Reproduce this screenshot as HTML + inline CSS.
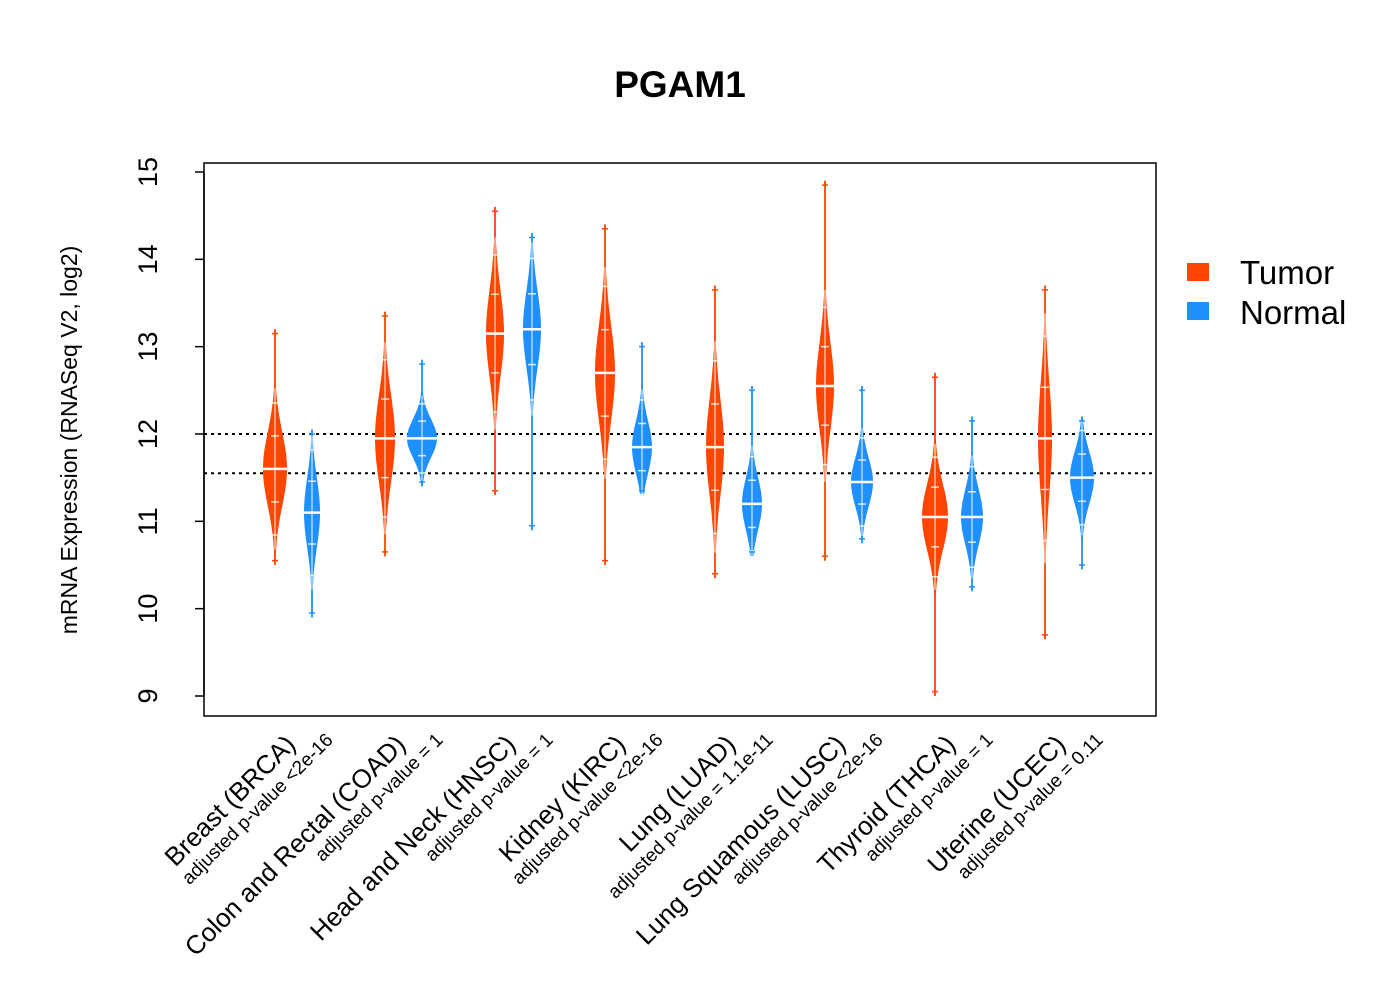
<!DOCTYPE html>
<html><head><meta charset="utf-8"><style>
body{margin:0;background:#fff;}
svg{display:block;font-family:"Liberation Sans",sans-serif;}
</style></head><body>
<svg id="chart" width="1400" height="1000">
<text x="680" y="97" text-anchor="middle" font-size="37" font-weight="bold">PGAM1</text>
<rect x="204" y="163" width="952" height="553" fill="none" stroke="#000" stroke-width="1.5"/>
<g id="marks"></g>
<g id="axis"></g>
<text transform="translate(77,440) rotate(-90)" text-anchor="middle" font-size="23">mRNA Expression (RNASeq V2, log2)</text>
<g>
<rect x="1187" y="263" width="22" height="18" fill="#FF4500"/>
<text x="1240" y="284" font-size="33">Tumor</text>
<rect x="1187" y="302" width="22" height="18" fill="#1E90FF"/>
<text x="1240" y="324" font-size="33">Normal</text>
</g>
<g id="labels"></g>
</svg>
<script>
const categories=["Breast (BRCA)","Colon and Rectal (COAD)","Head and Neck (HNSC)","Kidney (KIRC)","Lung (LUAD)","Lung Squamous (LUSC)","Thyroid (THCA)","Uterine (UCEC)"];
const pvalues=["adjusted p-value <2e-16","adjusted p-value = 1","adjusted p-value = 1","adjusted p-value <2e-16","adjusted p-value = 1.1e-11","adjusted p-value <2e-16","adjusted p-value = 1","adjusted p-value = 0.11"];
const tumorMin=[10.5,10.6,11.3,10.5,10.35,10.55,9.0,9.65];
const tumorMax=[13.2,13.4,14.6,14.4,13.7,14.9,12.7,13.7];
const tumorMedian=[11.6,11.95,13.15,12.7,11.85,12.55,11.05,11.95];
const tumorSpread=[0.42,0.5,0.5,0.55,0.55,0.5,0.38,0.65];
const tumorWidth=[12,10,9,10,9,9,13,7];
const normalMin=[9.9,11.4,10.9,11.3,10.6,10.75,10.2,10.45];
const normalMax=[12.05,12.85,14.3,13.05,12.55,12.55,12.2,12.2];
const normalMedian=[11.1,11.95,13.2,11.85,11.2,11.45,11.05,11.5];
const normalSpread=[0.4,0.22,0.45,0.3,0.3,0.28,0.32,0.3];
const normalWidth=[8,15,9,10,10,11,11,12];
const yTicks=[9,10,11,12,13,14,15];
const refLines=[12,11.55];

const NS="http://www.w3.org/2000/svg";
const y=v=>696-(v-9)*(524/6);
const xc=(i,s)=>275+i*110+(s?37:0);
const marks=document.getElementById('marks');
function mk(tag,attrs,parent){const e=document.createElementNS(NS,tag);for(const k in attrs)e.setAttribute(k,attrs[k]);parent.appendChild(e);return e;}

refLines.forEach((v,i)=>{
 const l=mk('line',{x1:204,x2:1156,y1:y(v),y2:y(v),stroke:'#000','stroke-width':2,'stroke-dasharray':'3,4'},marks);
 
 
});

function violin(i,s,mn,mx,med,sd,w,col,name){
 const cx=xc(i,s);const g=mk('g',{},marks);
 
 
 mk('line',{x1:cx,x2:cx,y1:y(mn),y2:y(mx),stroke:col,'stroke-width':1.5},g);
 let left=[],right=[];
 const N=60;
 for(let k=0;k<=N;k++){const v=mn+(mx-mn)*k/N;let hw=w*Math.exp(-0.5*Math.pow((v-med)/sd,2));if(hw<0.8)hw=0.8;left.push([cx-hw,y(v)]);right.push([cx+hw,y(v)]);}
 const pts=left.concat(right.reverse()).map(p=>p[0].toFixed(1)+','+p[1].toFixed(1)).join(' ');
 mk('polygon',{points:pts,fill:col},g);
 mk('line',{x1:cx,x2:cx,y1:y(med+2.2*sd),y2:y(med-2.2*sd),stroke:'#fff','stroke-width':1.2,opacity:0.8},g);
 for(let k=-2;k<=2;k++){if(k===0)continue;const v=med+k*sd*0.9;mk('line',{x1:cx-4,x2:cx+4,y1:y(v),y2:y(v),stroke:'#fff','stroke-width':1.5,opacity:0.8},g);}
 [mn+0.05,mx-0.05].forEach(v=>mk('line',{x1:cx-3,x2:cx+3,y1:y(v),y2:y(v),stroke:col,'stroke-width':1.5},g));
 mk('line',{x1:cx-w-4,x2:cx+w+4,y1:y(med),y2:y(med),stroke:'#fff','stroke-width':2.5},g);
}
categories.forEach((c,i)=>{
 violin(i,0,tumorMin[i],tumorMax[i],tumorMedian[i],tumorSpread[i],tumorWidth[i],'#FF4500','violin-tumor-'+i);
 violin(i,1,normalMin[i],normalMax[i],normalMedian[i],normalSpread[i],normalWidth[i],'#1E90FF','violin-normal-'+i);
});

const axis=document.getElementById('axis');
mk('line',{x1:204,x2:204,y1:y(9),y2:y(15),stroke:'#000','stroke-width':1.5},axis);
yTicks.forEach(t=>{
 mk('line',{x1:195,x2:204,y1:y(t),y2:y(t),stroke:'#000','stroke-width':1.5},axis);
 const tx=mk('text',{transform:`translate(157,${y(t)}) rotate(-90)`,'text-anchor':'middle','font-size':27},axis);
 tx.textContent=t;
 
 
});

const labels=document.getElementById('labels');
categories.forEach((c,i)=>{
 const cx=275+i*110;
 const t=mk('text',{transform:`translate(${cx+22},746) rotate(-45)`,'text-anchor':'end','font-size':26},labels);
 t.textContent=c;
 
 
 const p=mk('text',{transform:`translate(${cx+59},741) rotate(-45)`,'text-anchor':'end','font-size':19},labels);
 p.textContent=pvalues[i];
 
 
});
</script>
</body></html>
